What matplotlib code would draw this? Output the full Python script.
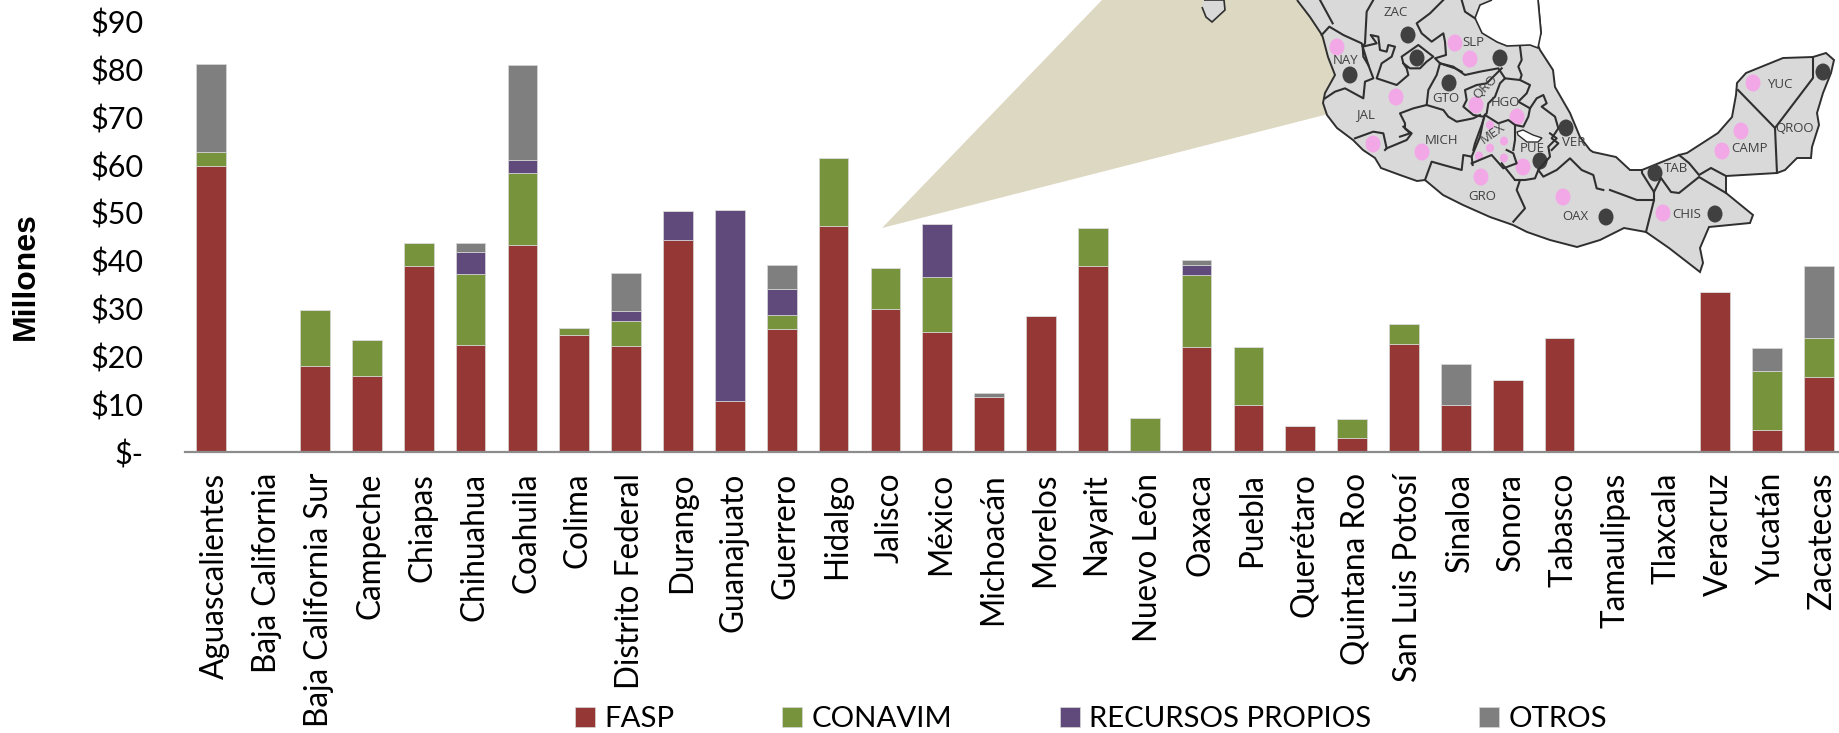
import matplotlib
matplotlib.use('Agg')
import matplotlib.pyplot as plt
from matplotlib.patches import Polygon, Ellipse
from matplotlib.transforms import ScaledTranslation

plt.rcParams['font.family'] = ['Lato', 'DejaVu Sans']

W, H = 1839, 733

estados = ['Aguascalientes', 'Baja California', 'Baja California Sur', 'Campeche', 'Chiapas',
           'Chihuahua', 'Coahuila', 'Colima', 'Distrito Federal', 'Durango', 'Guanajuato',
           'Guerrero', 'Hidalgo', 'Jalisco', 'México', 'Michoacán', 'Morelos', 'Nayarit',
           'Nuevo León', 'Oaxaca', 'Puebla', 'Querétaro', 'Quintana Roo', 'San Luis Potosí',
           'Sinaloa', 'Sonora', 'Tabasco', 'Tamaulipas', 'Tlaxcala', 'Veracruz', 'Yucatán',
           'Zacatecas']
fasp = [59.8, 0, 17.9, 16.0, 38.9, 22.3, 43.3, 24.4, 22.2, 44.4, 10.7, 25.7, 47.3, 29.9, 25.1,
        11.4, 28.5, 38.9, 0.2, 21.9, 9.8, 5.4, 2.9, 22.6, 9.8, 15.0, 23.9, 0, 0, 33.5, 4.7, 15.7]
conavim = [2.9, 0, 11.7, 7.5, 4.9, 14.9, 15.1, 1.5, 5.1, 0, 0, 3.0, 14.1, 8.5, 11.4,
           0, 0, 8.0, 7.0, 15.1, 12.2, 0, 4.0, 4.1, 0, 0, 0, 0, 0, 0, 12.3, 8.2]
propios = [0, 0, 0, 0, 0, 4.6, 2.7, 0, 2.1, 6.1, 40.0, 5.4, 0, 0, 11.1,
           0, 0, 0, 0, 2.1, 0, 0, 0, 0, 0, 0, 0, 0, 0, 0, 0, 0]
otros = [18.4, 0, 0, 0, 0, 2.0, 19.9, 0, 8.0, 0, 0, 5.1, 0, 0, 0,
         1.0, 0, 0, 0, 1.1, 0, 0, 0, 0, 8.6, 0, 0, 0, 0, 0, 4.7, 14.9]

series_names = ['FASP', 'CONAVIM', 'RECURSOS PROPIOS', 'OTROS']
series_colors = ['#953735', '#77933C', '#604A7B', '#7F7F7F']
ytick_values = [0, 10, 20, 30, 40, 50, 60, 70, 80, 90]
ytick_labels = ['$-', '$10', '$20', '$30', '$40', '$50', '$60', '$70', '$80', '$90']


def draw_map(ax):
    # everything here is in pixels of the picture, the map is an illustration not data
    ax.add_patch(Polygon([(882, 228), (1102, 0), (1340, 0), (1340, 111)], fc='#DDD8C2', ec='none'))

    land = [(1297, 0), (1310, 17), (1322, 35), (1323, 38), (1328, 57), (1335, 75), (1325, 93),
            (1323, 103), (1327, 115), (1337, 128), (1353, 140), (1363, 150), (1375, 158),
            (1381, 168), (1400, 175), (1417, 181), (1425, 180), (1443, 195), (1463, 205),
            (1490, 217), (1513, 225), (1527, 232), (1550, 240), (1577, 247), (1600, 240),
            (1624, 228), (1646, 232), (1669, 248), (1700, 272), (1703, 263), (1700, 248),
            (1709, 227), (1750, 223), (1753, 215), (1726, 193), (1726, 176), (1777, 173),
            (1785, 170), (1797, 158), (1811, 158), (1812, 147), (1819, 125), (1817, 113),
            (1823, 93), (1831, 73), (1834, 60), (1826, 53), (1813, 57), (1783, 58), (1746, 73),
            (1737, 83), (1736, 95), (1732, 117), (1718, 133), (1687, 153), (1679, 155),
            (1642, 170), (1630, 170), (1616, 157), (1593, 152), (1590, 150), (1580, 137),
            (1570, 113), (1555, 87), (1553, 70), (1540, 50), (1537, 43), (1541, 33), (1538, 0)]
    ax.add_patch(Polygon(land, fc='#D9D9D9', ec='#2F2F2F', lw=1.4, closed=False))
    tamps = [(1492, 0), (1480, 5), (1475, 18), (1482, 33), (1497, 42), (1507, 46), (1530, 45),
             (1538, 48), (1541, 33), (1538, 0)]
    ax.add_patch(Polygon(tamps, fc='white', ec='#2F2F2F', lw=1.2, closed=False))
    baja = [(1204, 0), (1224, 0), (1225, 10), (1212, 22), (1206, 17), (1202, 7)]
    ax.add_patch(Polygon(baja, fc='#D9D9D9', ec='#2F2F2F', lw=1.2, closed=False))

    z6 = [[(120, 0), (158, 70)],
          [(125, 105), (148, 80), (190, 105), (245, 130), (265, 195), (280, 235), (255, 245),
           (250, 295), (195, 265), (165, 275), (135, 295)],
          [(280, 0), (260, 35), (255, 130), (248, 140), (290, 130), (272, 105), (295, 110),
           (300, 150), (320, 155), (325, 135), (345, 140), (335, 170), (305, 190), (290, 235),
           (350, 255), (385, 225), (380, 205), (370, 190), (365, 170), (415, 135), (460, 170),
           (440, 185), (420, 205), (390, 205), (370, 190)],
          [(248, 140), (250, 170), (265, 195)],
          [(490, 0), (450, 40), (410, 70), (425, 100), (455, 125), (490, 100), (495, 125),
           (498, 165), (465, 175), (480, 190), (525, 205), (545, 215)],
          [(480, 190), (470, 225), (445, 270), (440, 315), (490, 330), (505, 350), (530, 365),
           (580, 355), (600, 345)],
          [(440, 315), (400, 325), (360, 340), (375, 370), (375, 385), (395, 400), (380, 420),
           (320, 445)],
          [(225, 415), (280, 395), (310, 400), (320, 445), (315, 450)],
          [(545, 0), (555, 35), (585, 55)]]
    for line in z6:
        ax.plot([1280 + x / 3 for x, y in line], [y / 3 for x, y in line], color='#2F2F2F', lw=1.5)
    z7 = [[(240, 140), (245, 180), (235, 200), (245, 225), (240, 240)],
          [(0, 190), (40, 200), (75, 225), (120, 215), (175, 205), (195, 235), (240, 240),
           (270, 255), (260, 280), (235, 305), (270, 325), (290, 295), (310, 285), (320, 310),
           (305, 320), (345, 350), (355, 385), (335, 415), (355, 430), (335, 450)],
          [(185, 205), (165, 225), (140, 250), (110, 255), (75, 270), (80, 300), (70, 320),
           (100, 345), (130, 350), (140, 340), (145, 310), (165, 290), (180, 250), (195, 235)],
          [(135, 345), (175, 370), (205, 360), (225, 375), (250, 380), (265, 350), (270, 325)],
          [(135, 345), (125, 375), (105, 430), (100, 450)],
          [(225, 375), (225, 420), (220, 450)]]
    for line in z7:
        ax.plot([1440 + x / 3 for x, y in line], [y / 3 for x, y in line], color='#2F2F2F', lw=1.5)
    z8 = [[(0, 50), (30, 40), (10, 20)],
          [(75, 180), (95, 125), (130, 135), (185, 150), (190, 105), (215, 110), (218, 135)],
          [(215, 110), (240, 50), (250, 0)],
          [(215, 130), (275, 105), (310, 145), (350, 130), (340, 100), (320, 90)],
          [(305, 130), (345, 180), (360, 180), (350, 210), (375, 265), (340, 305)],
          [(345, 180), (375, 180), (405, 175), (415, 150), (430, 170), (470, 150), (510, 115),
           (545, 150), (580, 165), (590, 205), (610, 210)],
          [(415, 150), (450, 110), (445, 80), (470, 55), (450, 40)]]
    for line in z8:
        ax.plot([1400 + x / 3 for x, y in line], [120 + y / 3 for x, y in line], color='#2F2F2F', lw=1.5)
    east = [[(1610, 190), (1637, 200), (1654, 200), (1646, 232)],
            [(1642, 170), (1642, 173), (1654, 192), (1654, 200)],
            [(1654, 192), (1661, 178), (1671, 192), (1679, 193), (1699, 177), (1726, 193)],
            [(1679, 155), (1689, 163), (1699, 175), (1711, 168), (1726, 176)],
            [(1738, 90), (1775, 128), (1813, 78), (1813, 57)],
            [(1775, 128), (1777, 173)]]
    for line in east:
        ax.plot([x for x, y in line], [y for x, y in line], color='#2F2F2F', lw=1.5)

    tlax = [(1517, 132), (1523, 130), (1533, 135), (1542, 138), (1538, 142), (1527, 142), (1518, 135)]
    ax.add_patch(Polygon(tlax, fc='white', ec='#2F2F2F', lw=1.0))

    pink = [(1337, 47), (1455, 43), (1470, 59), (1396, 97), (1476, 105), (1517, 117), (1373, 144),
            (1422, 152), (1481, 177), (1523, 167), (1563, 197), (1663, 213), (1722, 151),
            (1741, 131), (1753, 83)]
    for x, y in pink:
        ax.add_patch(Ellipse((x, y), 15, 17, fc='#F2A8E6', ec='none'))
    for x, y in [(1490, 125), (1504, 141), (1490, 148), (1479, 156), (1504, 158)]:
        ax.add_patch(Ellipse((x, y), 8, 9, fc='#F2A8E6', ec='none'))
    dark = [(1408, 35), (1417, 58), (1500, 58), (1449, 83), (1350, 75), (1566, 128), (1540, 161),
            (1606, 217), (1655, 173), (1715, 214), (1823, 72)]
    for x, y in dark:
        ax.add_patch(Ellipse((x, y), 15, 17, fc='#404040', ec='none'))

    labels = [('ZAC', 1396, 13, 0), ('SLP', 1473, 43, 0), ('NAY', 1346, 61, 0), ('GTO', 1446, 99, 0),
              ('QRO', 1485, 87, 45), ('HGO', 1505, 103, 0), ('JAL', 1365, 115, 0), ('MICH', 1442, 140, 0),
              ('MEX', 1493, 133, 35), ('PUE', 1532, 149, 0), ('VER', 1574, 143, 0), ('GRO', 1482, 197, 0),
              ('OAX', 1575, 217, 0), ('TAB', 1676, 169, 0), ('CHIS', 1687, 214, 0), ('CAMP', 1750, 149, 0),
              ('QROO', 1795, 129, 0), ('YUC', 1780, 84, 0)]
    for txt, x, y, rot in labels:
        ax.text(x, y, txt, fontsize=9.5, color='#404040', ha='center', va='center', rotation=rot,
                family=['Open Sans', 'DejaVu Sans'])


fig = plt.figure(figsize=(W / 100, H / 100), dpi=100)
ax = fig.add_axes([185.4 / W, 1 - 452 / H, (W - 185.4) / W, (452 - 21.7) / H])

bottom = [0] * len(estados)
bars = []
for vals, name, col in zip([fasp, conavim, propios, otros], series_names, series_colors):
    b = ax.bar(range(len(estados)), vals, width=0.573, bottom=bottom, color=col, label=name,
               edgecolor='#D9D9D9', linewidth=0.5)
    bars.append(b)
    bottom = [a + v for a, v in zip(bottom, vals)]

ax.set_xlim(-0.5, 31.39)
ax.set_ylim(0, 90)
ax.patch.set_alpha(0)
for s in ['top', 'right', 'left']:
    ax.spines[s].set_visible(False)
ax.spines['bottom'].set_color('#8C8C8C')
ax.spines['bottom'].set_linewidth(1.6)
ax.set_yticks(ytick_values)
ax.set_yticklabels(ytick_labels, fontsize=22)
ax.set_xticks(range(len(estados)))
ax.set_xticklabels(estados, rotation=90, fontsize=22.7, ha='center', va='top')
ax.tick_params(axis='both', length=0)
ax.tick_params(axis='y', pad=30)
ax.tick_params(axis='x', pad=15)
# labels sit a little right of the bar centre in the original
shift = ScaledTranslation(3.7 / 100, 0, fig.dpi_scale_trans)
for lab in ax.get_xticklabels():
    lab.set_transform(lab.get_transform() + shift)

fig.text(26 / W, 1 - 276 / H, 'Millones', rotation=90, fontsize=23, fontweight='bold',
         ha='center', va='center', family=['Liberation Sans', 'DejaVu Sans'])

fig.legend(handles=[b[0] for b in bars], labels=series_names, ncol=4, frameon=False, fontsize=21.2,
           loc='center left', bbox_to_anchor=(575 / W, 1 - 719 / H), handlelength=0.68,
           handleheight=0.68, handletextpad=0.33, columnspacing=3.64, borderpad=0, borderaxespad=0)

mapa = fig.add_axes([0, 0, 1, 1], zorder=5)
mapa.set_xlim(0, W)
mapa.set_ylim(H, 0)
mapa.axis('off')
draw_map(mapa)

fig.savefig('out.png', dpi=100)
